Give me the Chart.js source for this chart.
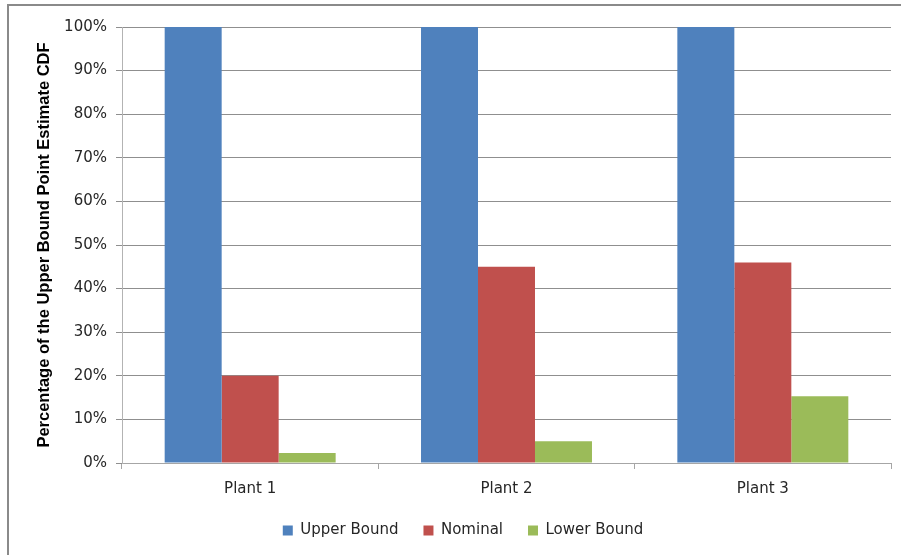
<!DOCTYPE html>
<html>
<head>
<meta charset="utf-8">
<script src="https://cdn.jsdelivr.net/npm/chart.js@4.4.1/dist/chart.umd.min.js"></script>
<style>
  html, body { margin: 0; padding: 0; background: #ffffff; }
  #wrap { position: relative; width: 901px; height: 555px; }
</style>
</head>
<body>
<div id="wrap"><canvas id="chart" width="901" height="555"></canvas></div>
<script>
// Categories and series (percent of the upper-bound point estimate CDF)
const plants = ['Plant 1', 'Plant 2', 'Plant 3'];
const upperBound = [100, 100, 100];
const nominal = [20, 45, 46];
const lowerBound = [2.3, 5, 15.3];
const seriesNames = ['Upper Bound', 'Nominal', 'Lower Bound'];
const seriesColors = ['#4F81BD', '#C0504D', '#9BBB59'];

// Thin grey frame around the whole figure
const framePlugin = {
  id: 'frame',
  beforeDraw(chart) {
    const ctx = chart.ctx;
    ctx.save();
    ctx.fillStyle = '#ffffff';
    ctx.fillRect(0, 0, chart.width, chart.height);
    ctx.strokeStyle = '#8a8a8a';
    ctx.lineWidth = 2;
    ctx.strokeRect(8, 5, chart.width + 20, chart.height + 20);
    ctx.restore();
  }
};

const tickFont = { family: 'DejaVu Sans', size: 15 };

new Chart(document.getElementById('chart'), {
  type: 'bar',
  data: {
    labels: plants,
    datasets: [
      { label: seriesNames[0], data: upperBound, backgroundColor: seriesColors[0] },
      { label: seriesNames[1], data: nominal, backgroundColor: seriesColors[1] },
      { label: seriesNames[2], data: lowerBound, backgroundColor: seriesColors[2] }
    ]
  },
  options: {
    responsive: false,
    animation: false,
    layout: { padding: { left: 35, right: 10, top: 27, bottom: 7 } },
    datasets: { bar: { categoryPercentage: 0.667, barPercentage: 1.0 } },
    plugins: {
      legend: {
        position: 'bottom',
        labels: {
          font: { family: 'DejaVu Sans', size: 15 },
          color: '#262626',
          boxWidth: 10,
          boxHeight: 10,
          padding: 25
        }
      },
      tooltip: { enabled: false }
    },
    scales: {
      x: {
        grid: { drawOnChartArea: false, drawTicks: true, tickLength: 6, color: '#a6a6a6' },
        border: { color: '#a6a6a6' },
        ticks: { font: tickFont, color: '#262626', padding: 11 },
        afterFit(scale) { scale.height = 35; }
      },
      y: {
        min: 0,
        max: 100,
        ticks: {
          stepSize: 10,
          font: tickFont,
          color: '#262626',
          padding: 9,
          callback: v => v + '%'
        },
        grid: { color: '#8f8f8f', tickLength: 6 },
        border: { color: '#b3b3b3' },
        title: {
          display: true,
          text: 'Percentage of the Upper Bound Point Estimate CDF',
          font: { family: 'Liberation Sans', size: 16.5, weight: 'bold' },
          color: '#000000',
          padding: 0
        },
        afterFit(scale) { scale.width = 87; }
      }
    }
  },
  plugins: [framePlugin]
});
</script>
</body>
</html>
